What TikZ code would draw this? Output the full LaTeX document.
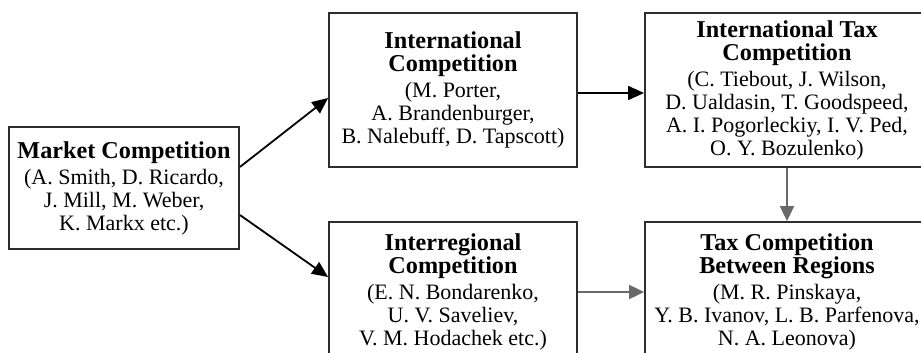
\documentclass[tikz,border=0pt]{standalone}
\usepackage{fontspec}
\setmainfont{Liberation Serif}
\usetikzlibrary{arrows.meta}
\newcommand{\tieude}[1]{{\fontsize{12.1}{11.5}\selectfont\bfseries #1}}
\begin{document}
\begin{tikzpicture}[x=0.5pt,y=-0.5pt]
	\definecolor{vien}{RGB}{45,45,45}
	\definecolor{xam}{RGB}{105,105,105}
	\tikzset{
		hop/.style={draw=vien,line width=0.9pt,align=center,inner sep=0pt,font=\fontsize{11}{11.5}\selectfont},
		muiden/.style={-{Triangle[length=8pt,width=7pt]},line width=0.9pt,black},
		muixam/.style={-{Triangle[length=7.5pt,width=7pt]},line width=0.9pt,xam}
	}
	\useasboundingbox (0,0) rectangle (921,353);
	\clip (0,0) rectangle (921,353);
	%Cac hop
	\node[hop,minimum width=115pt,minimum height=61pt] (market) at (124,188) {\tieude{Market Competition}\\[1.5pt] (A. Smith, D. Ricardo,\\ J. Mill, M. Weber,\\ K. Markx etc.)};
	\node[hop,minimum width=124pt,minimum height=77pt] (intcomp) at (453,90) {\tieude{International}\\ \tieude{Competition}\\[1.5pt] (M. Porter,\\ A. Brandenburger,\\ B. Nalebuff, D. Tapscott)};
	\node[hop,minimum width=142pt,minimum height=77pt] (inttax) at (787,90) {\tieude{International Tax}\\ \tieude{Competition}\\[1.5pt] (C. Tiebout, J. Wilson,\\ D. Ualdasin, T. Goodspeed,\\ A. I. Pogorleckiy, I. V. Ped,\\ O. Y. Bozulenko)};
	\node[hop,minimum width=124pt,minimum height=70pt] (interreg) at (453,292) {\tieude{Interregional}\\ \tieude{Competition}\\[1.5pt] (E. N. Bondarenko,\\ U. V. Saveliev,\\ V. M. Hodachek etc.)};
	\node[hop,minimum width=142pt,minimum height=70pt] (taxreg) at (787,292) {\tieude{Tax Competition}\\ \tieude{Between Regions}\\[1.5pt] (M. R. Pinskaya,\\ Y. B. Ivanov, L. B. Parfenova,\\ N. A. Leonova)};
	%Mui ten
	\draw[muiden] ([yshift=10.5pt]market.east) -- ([yshift=-4pt]intcomp.west);
	\draw[muiden] ([yshift=-13.5pt]market.east) -- ([yshift=7.5pt]interreg.west);
	\draw[muiden] ([yshift=-1.5pt]intcomp.east) -- ([yshift=-1.5pt]inttax.west);
	\draw[muixam] (inttax) -- (taxreg);
	\draw[muixam] (interreg) -- (taxreg);
\end{tikzpicture}
\end{document}
